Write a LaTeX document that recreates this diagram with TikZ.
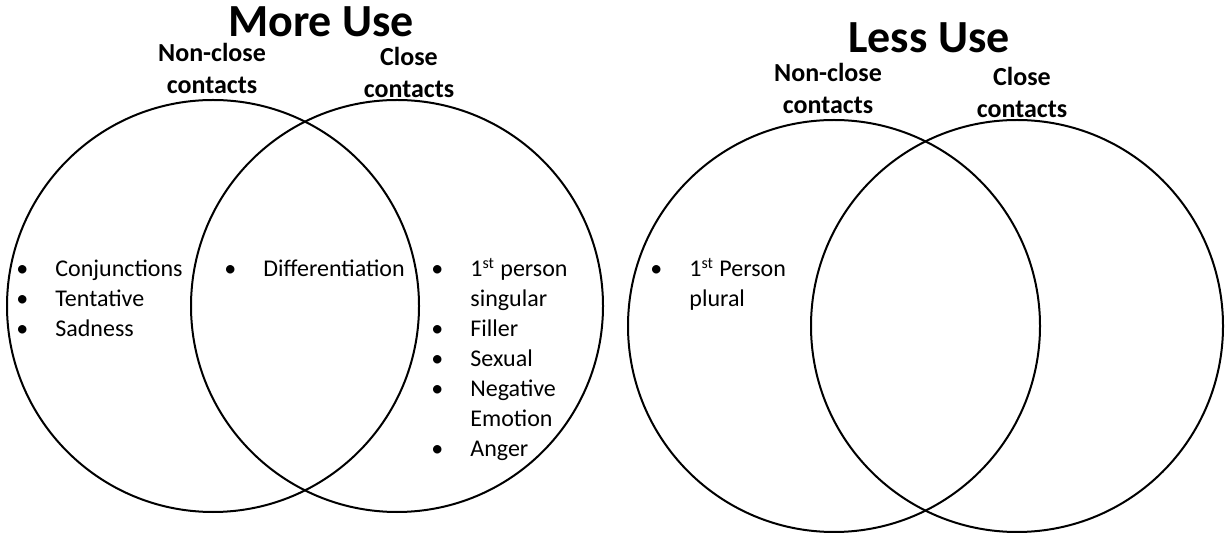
\documentclass[tikz,border=0pt]{standalone}
\usepackage{fontspec}
\setmainfont{Carlito}
\usepackage{tikz}
\newcommand{\bul}{\makebox[19.5pt][l]{\textbullet}}
\newcommand{\hang}{\hspace*{19.5pt}}

\begin{document}
\begin{tikzpicture}[x=0.5pt,y=-0.5pt,
  venn/.style={line width=1pt},
  heading/.style={font=\fontsize{23}{28}\selectfont\bfseries, anchor=base, inner sep=0pt},
  group/.style={font=\fontsize{13}{16}\selectfont\bfseries, align=center, anchor=base, inner sep=0pt},
  items/.style={font=\fontsize{12}{15}\selectfont, align=left, anchor=base west, inner sep=0pt}]
\useasboundingbox (0,0) rectangle (1230,533);
% more use (nodes sit on the baseline of their last line)
\draw[venn] (213,306) circle (206); % non-close
\draw[venn] (397,306) circle (206); % close
\node[heading] (moreuse) at (321,37) {More Use};
\node[group] (morenc) at (212,94) {Non-close\\contacts};
\node[group] (morec) at (409,98) {Close\\contacts};
\node[items] (morencitems) at (16,337) {\bul Conjunctions\\ \bul Tentative\\ \bul Sadness};
\node[items] (bothitems) at (224,277) {\bul Differentiation};
\node[items] (morecitems) at (431,457) {\bul 1\textsuperscript{st} person\\ \hang singular\\ \bul Filler\\ \bul Sexual\\ \bul Negative\\ \hang Emotion\\ \bul Anger};
% less use
\draw[venn] (834,326) circle (206); % non-close
\draw[venn] (1017,326) circle (206); % close
\node[heading] (lessuse) at (929,53) {Less Use};
\node[group] (lessnc) at (828,114) {Non-close\\contacts};
\node[group] (lessc) at (1022,118) {Close\\contacts};
\node[items] (lessncitems) at (650,307) {\bul 1\textsuperscript{st} Person\\ \hang plural};
\end{tikzpicture}
\end{document}
